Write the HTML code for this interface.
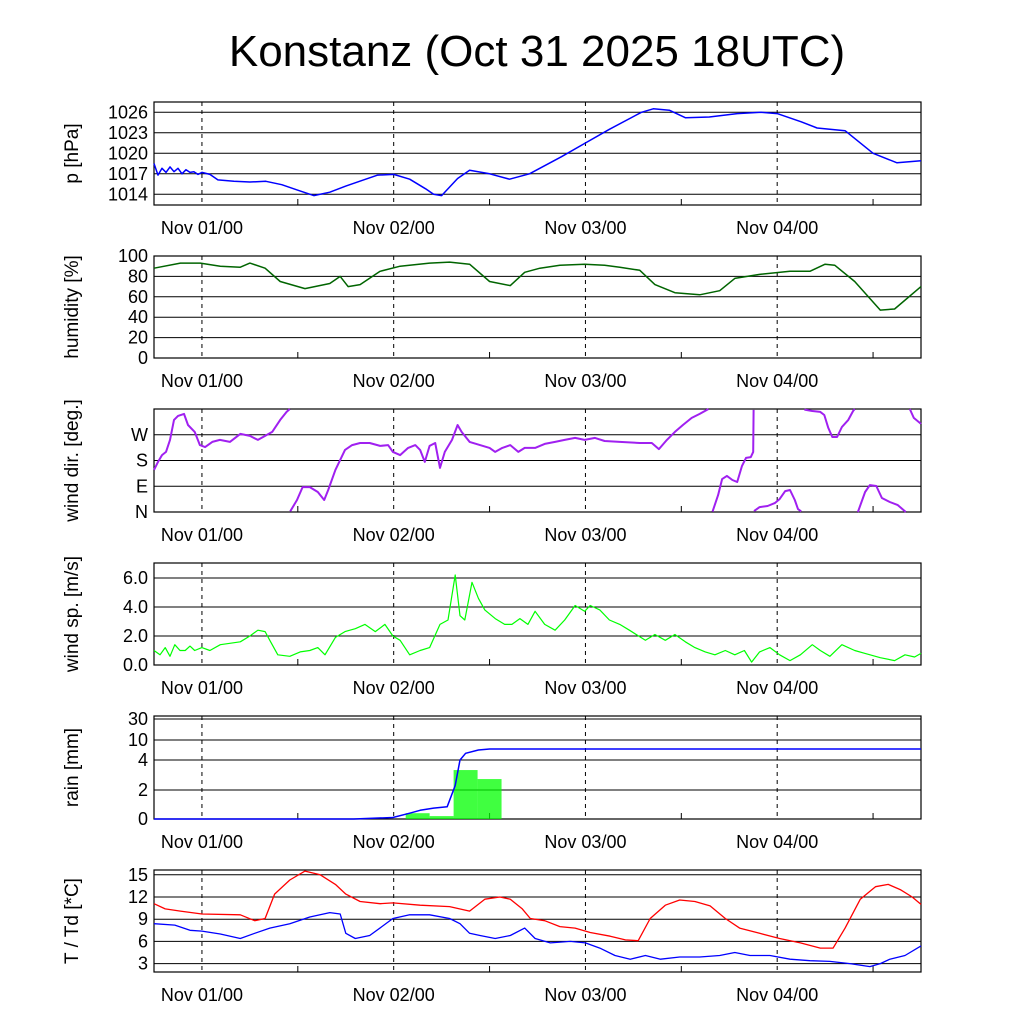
<!DOCTYPE html>
<html><head><meta charset="utf-8"><style>
body{margin:0;background:#fff;}
svg{display:block;font-family:"Liberation Sans",sans-serif;}
</style></head><body>
<svg id="c" width="1024" height="1024" viewBox="0 0 1024 1024">
<text x="537" y="66" text-anchor="middle" font-size="44">Konstanz (Oct 31 2025 18UTC)</text>
</svg>
<script>
// ---- data (hours since Oct 31 18UTC) ----
const dayLabels = ["Nov 01/00","Nov 02/00","Nov 03/00","Nov 04/00"];
const dayHours = [6,30,54,78];
const presHours = [0,0.5,1,1.5,2,2.5,3,3.5,4,4.5,5,5.5,6,7,8,10,12,14,16,18,20,22,24,26,28,30,32,34,35,36,38,39.5,42,44.5,47,51,54,57,61,62.5,64.5,66.5,69.5,73,76,78,81,83,86.5,90,93,96];
const presVals = [1018.5,1016.8,1017.8,1017.2,1018,1017.3,1017.8,1017,1017.6,1017.2,1017.3,1016.9,1017.2,1016.9,1016.1,1015.9,1015.8,1015.9,1015.4,1014.6,1013.8,1014.3,1015.2,1016.0,1016.8,1016.9,1016.2,1014.8,1014.0,1013.8,1016.3,1017.5,1017.0,1016.2,1017.0,1019.5,1021.5,1023.5,1026.0,1026.5,1026.3,1025.2,1025.3,1025.8,1026.0,1025.8,1024.6,1023.7,1023.3,1020.0,1018.6,1018.9];
const presTicks = [1014,1017,1020,1023,1026];
const humHours = [0,3.3,5.8,8.3,10.8,12,13.9,15.8,18.9,22,23.3,24.3,25.8,28.3,30.8,34.5,37,39.5,42,44.6,46.4,48.3,50.8,53.9,56.4,58.3,60.8,62.7,65.2,68.3,70.8,72.7,75.8,79.6,82.1,84,85.2,87.7,90.9,92.7,96];
const humVals = [88,93,93,90,89,93,88,75,68,73,80,70,72,85,90,93,94,92,75,71,84,88,91,92,91,89,86,72,64,62,66,78,82,85,85,92,91,75,47,48,70];
const humTicks = [0,20,40,60,80,100];
const dirHours = [0,0.5,1,1.5,2,2.5,3,3.75,4.25,5.1,5.75,6.4,7.3,8.25,9.5,10.8,12,13,13.9,14.8,15.8,16.6,17,17.05,17.9,18.6,19.5,20.5,21.3,21.8,22.7,23.3,23.9,24.8,25.8,27,28.3,29.3,29.9,30.8,31.8,32.7,33.3,33.9,34.5,35.2,35.8,36.4,37.3,38,38.5,39.5,40.8,42,42.7,43.6,44.6,45.6,46.4,47.7,48.9,50.2,51.4,52.7,53.9,55.2,56.4,58.3,60.8,62.3,63.2,64.2,65.2,66.2,67.3,68.3,69.4,69.9,70.6,71.1,71.7,72.4,73,73.6,74.1,74.7,75,75.05,75.1,75.8,76.8,77.7,78.3,79,79.6,80.2,80.6,81,81.4,82.4,83.4,83.9,84.4,84.9,85.5,86.1,86.9,87.5,87.7,88.1,89,89.6,90.4,91.1,92.1,93.1,94.1,94.6,95.1,96];
const dirVals = [147,175,199,210,252,322,336,343,304,280,234,227,245,252,245,273,266,252,266,280,322,350,360,2,42,87,87,70,42,77,147,182,217,234,241,241,231,234,210,199,224,234,217,175,231,241,154,210,252,304,280,245,234,224,210,224,234,210,224,224,238,245,252,259,252,259,248,245,241,241,220,252,280,304,329,343,360,1,59,115,126,112,105,161,189,192,210,357,3,17,21,31,45,73,77,42,10,2,358,353,350,339,294,262,262,297,322,353,360,0,70,94,91,49,35,24,0,360,329,308];
const dirTicks = [0,90,180,270];
const dirTickLabels = ["N","E","S","W"];
const spdHours = [0,0.75,1.4,2,2.6,3.25,3.9,4.5,5.1,6,7,8.3,10.8,12,13,13.9,14.5,15.5,17,18.3,19.5,20.5,21.4,22.7,23.9,25.2,26.4,27.7,28.9,29.9,30.8,32,33.3,34.5,35.8,36.8,37.7,38.3,38.9,39.8,40.6,41.4,42.7,43.9,44.8,45.8,46.8,47.7,48.9,50.2,51.4,52.7,53.9,54.6,55.8,57,58.3,59.5,61.5,62.7,64,65.2,66.5,67.7,69,70.2,71.5,72.7,73.9,74.8,75.8,77.1,78.3,79.6,80.9,82.4,83.4,84.6,86.1,87.7,89,90.9,92.7,94,95.2,96];
const spdVals = [1.0,0.7,1.2,0.6,1.4,1.0,1.0,1.3,1.0,1.2,1.0,1.4,1.6,2.0,2.4,2.3,1.7,0.7,0.6,0.9,1.0,1.2,0.7,1.9,2.3,2.5,2.8,2.3,2.8,2.0,1.7,0.7,1.0,1.2,2.8,3.1,6.2,3.4,3.1,5.7,4.6,3.8,3.2,2.8,2.8,3.2,2.8,3.7,2.8,2.4,3.1,4.1,3.7,4.1,3.8,3.1,2.8,2.4,1.7,2.1,1.7,2.1,1.6,1.2,0.9,0.7,1.0,0.7,1.0,0.2,0.9,1.2,0.7,0.3,0.7,1.4,1.0,0.6,1.4,1.0,0.8,0.5,0.3,0.7,0.55,0.8];
const spdTicks = [0,2,4,6];
const rainBarHours = [33,36,39,42];
const rainBarVals = [0.4,0.2,3.33,2.73];
const rainCumHours = [0,25,29.9,32,33.3,35,36.7,37.7,38.3,39,40.6,42,96];
const rainCumVals = [0,0,0.1,0.4,0.6,0.75,0.85,2.3,4,6,7,7.3,7.3];
const rainTicks = [0,2,4,10,30];
const tHours = [0,1.4,3.3,6,10.8,12.6,13.9,15.1,17,18.9,20.8,22.7,24,25.8,28.3,29.9,33.3,37,39.5,41.4,43.3,44.6,46.1,47.1,48.9,50.8,52.7,54.6,57.1,59,60.6,62.1,64,65.8,67.7,69.6,71.5,73.3,75.8,78.3,80.9,83.4,85,86.5,88.4,90.3,91.9,93.4,94.9,96];
const tVals = [11.1,10.4,10.1,9.7,9.6,8.8,9.1,12.4,14.3,15.5,15,13.7,12.4,11.4,11.1,11.2,10.9,10.7,10.1,11.7,12,11.7,10.4,9.1,8.8,8.0,7.8,7.2,6.7,6.2,6.1,9.1,10.9,11.6,11.4,10.8,9.1,7.8,7.1,6.4,5.8,5.1,5.1,7.8,11.7,13.4,13.7,13.0,12.0,11.0];
const tdHours = [0,2.6,4.5,6,8.3,10.8,12.6,14.5,17,19.5,22,23.3,24,25.2,27,28.9,29.9,32,34.5,37,38.3,39.5,40.8,42.7,44.6,46.4,47.7,49.6,52.1,54,55.8,57.7,59.6,61.5,63.4,65.8,68.3,70.8,72.7,74.6,77.1,79.6,82.1,84.6,87.1,89.6,90.9,92.1,94,96];
const tdVals = [8.4,8.2,7.5,7.4,7.0,6.4,7.1,7.8,8.4,9.3,9.9,9.7,7.1,6.4,6.8,8.3,9.1,9.6,9.6,9.1,8.4,7.1,6.8,6.4,6.8,7.8,6.4,5.8,6.0,5.8,5.1,4.1,3.6,4.1,3.6,3.9,3.9,4.1,4.5,4.1,4.1,3.6,3.4,3.3,3.0,2.6,3.0,3.6,4.1,5.4];
const tempTicks = [3,6,9,12,15];

// ---- drawing ----
const svg = document.getElementById('c');
const NS = 'http://www.w3.org/2000/svg';
const X0 = 154, X1 = 921, HMAX = 96;
const xs = h => X0 + (X1 - X0) * h / HMAX;
function mk(tag, attrs, parent) {
  const e = document.createElementNS(NS, tag);
  for (const k in attrs) e.setAttribute(k, attrs[k]);
  (parent || svg).appendChild(e);
  return e;
}
function linY(top, bot, vmin, vmax) { return v => bot - (v - vmin) / (vmax - vmin) * (bot - top); }
function pieceY(top, bot, ticks, offs) {
  return v => {
    for (let i = 1; i < ticks.length; i++) {
      if (v <= ticks[i]) { const f = (v - ticks[i-1]) / (ticks[i] - ticks[i-1]); return bot - (offs[i-1] + f * (offs[i] - offs[i-1])); }
    }
    return bot - offs[offs.length-1];
  };
}
function panel(name, top, bot, ys, ticks, labels, title) {
  const g = mk('g', {});
  
  
  ticks.forEach((t, i) => {
    const y = ys(t);
    const gl = mk('line', {x1: X0, x2: X1, y1: y, y2: y, stroke: '#000', 'stroke-width': 1}, g);
    
    
    const tx = mk('text', {x: 148, y: y + 6, 'text-anchor': 'end', 'font-size': 18}, g);
    tx.textContent = labels ? labels[i] : String(t);
    
    
  });
  dayHours.forEach((h, i) => {
    const x = xs(h);
    const dl = mk('line', {x1: x, x2: x, y1: top, y2: bot, stroke: '#000', 'stroke-width': 1, 'stroke-dasharray': '4,4'}, g);
    
    
    const lb = mk('text', {x: x, y: bot + 29, 'text-anchor': 'middle', 'font-size': 18}, g);
    lb.textContent = dayLabels[i];
    
    
  });
  for (let h = 18; h < 96; h += 24) {
    const x = xs(h);
    const mt = mk('line', {x1: x, x2: x, y1: bot - 6, y2: bot, stroke: '#000', 'stroke-width': 1}, g);
    
    
  }
  const fr = mk('rect', {x: X0, y: top, width: X1 - X0, height: bot - top, fill: 'none', stroke: '#000', 'stroke-width': 1.2}, g);
  
  
  const cy = (top + bot) / 2;
  const tt = mk('text', {x: 0, y: 0, 'text-anchor': 'middle', 'font-size': 19, transform: `translate(78,${cy}) rotate(-90)`}, g);
  tt.textContent = title;
  
  
  return g;
}
function line(name, hours, vals, ys, color, w, splitWrap) {
  let segs = [[]];
  for (let i = 0; i < hours.length; i++) {
    if (splitWrap && i > 0 && Math.abs(vals[i] - vals[i-1]) > 180) segs.push([]);
    segs[segs.length-1].push(xs(hours[i]).toFixed(1) + ',' + ys(vals[i]).toFixed(1));
  }
  segs.forEach(s => {
    if (s.length < 2) return;
    const p = mk('polyline', {points: s.join(' '), fill: 'none', stroke: color, 'stroke-width': w, 'stroke-linejoin': 'round'});
    
    
  });
}

// pressure
const yP = linY(102, 205, 1012.43, 1027.5);
panel('pressure', 102, 205, yP, presTicks, null, 'p [hPa]');
line('pressure-line', presHours, presVals, yP, '#0000ff', 1.5);
// humidity
const yH = linY(256, 358, 0, 100);
panel('humidity', 256, 358, yH, humTicks, null, 'humidity [%]');
line('humidity-line', humHours, humVals, yH, '#006400', 1.5);
// wind dir
const yD = linY(409, 512, 0, 360);
panel('wind-dir', 409, 512, yD, dirTicks, dirTickLabels, 'wind dir. [deg.]');
line('wind-dir-line', dirHours, dirVals, yD, '#a020f0', 2, true);
// wind speed
const yS = linY(563, 665, 0, 7.03);
panel('wind-speed', 563, 665, yS, spdTicks, spdTicks.map(v => v.toFixed(1)), 'wind sp. [m/s]');
line('wind-speed-line', spdHours, spdVals, yS, '#00ff00', 1.2);
// rain
const yR = pieceY(716, 819, rainTicks, [0, 29, 59, 79, 100]);
panel('rain', 716, 819, yR, rainTicks, null, 'rain [mm]');
rainBarHours.forEach((h, i) => {
  const x0 = xs(h - 1.5), x1 = xs(h + 1.5), y = yR(rainBarVals[i]);
  const r = mk('rect', {x: x0, y: y, width: x1 - x0, height: 819 - y, fill: '#00ff00', 'fill-opacity': 0.75});
  
  
});
line('rain-cumulative-line', rainCumHours, rainCumVals, yR, '#0000ff', 1.5);
// temperature
const yT = linY(870, 972, 1.87, 15.65);
panel('temperature', 870, 972, yT, tempTicks, null, 'T / Td [*C]');
line('temperature-line', tHours, tVals, yT, '#ff0000', 1.3);
line('dewpoint-line', tdHours, tdVals, yT, '#0000ff', 1.3);
</script>
</body></html>
